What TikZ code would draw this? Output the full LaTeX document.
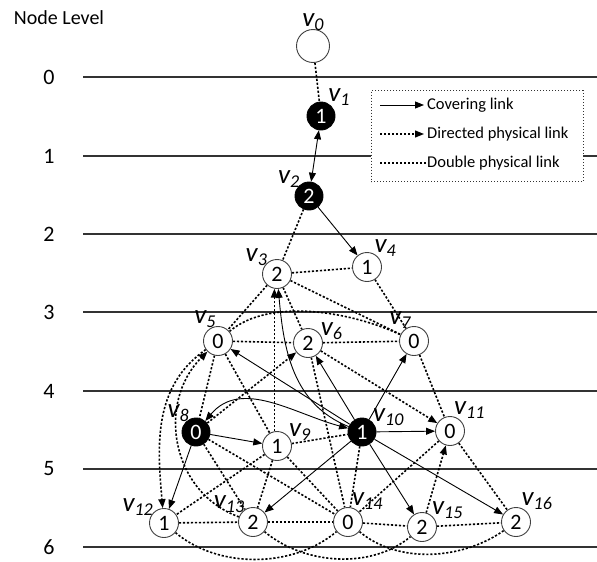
\documentclass[tikz,border=0pt]{standalone}
\usepackage{fontspec}
\setmainfont{Carlito}
\usetikzlibrary{arrows.meta, backgrounds}

% italic node name with subscript
\newcommand{\vlab}[1]{{\fontsize{27}{27}\selectfont\itshape v}\raisebox{-4pt}{\fontsize{18}{18}\selectfont\itshape #1}}

\begin{document}
\begin{tikzpicture}[
        x=1pt, y=-1pt,
        vnode/.style={circle, draw=black!75, line width=0.9pt, fill=white, minimum size=29pt, inner sep=0pt, font=\fontsize{22}{22}\selectfont},
        bnode/.style={vnode, draw=black, fill=black, text=white, minimum size=28pt},
        lbl/.style={label distance=-2pt, inner sep=0pt},
        cover/.style={-{Triangle[length=9pt,width=7pt]}, line width=0.9pt},
        phys/.style={line width=1.6pt, dash pattern=on 2.2pt off 1.8pt},
        dphys/.style={phys, -{Triangle[length=9pt,width=7pt]}},
        level/.style={line width=1.2pt, draw=black!80},
        lvnum/.style={font=\fontsize{22}{22}\selectfont},
        legtext/.style={anchor=west, inner sep=1pt, font=\fontsize{16.5}{16.5}\selectfont}
    ]
        \useasboundingbox (0,0) rectangle (597,562);

        % Level axis
        \node (title) [font=\fontsize{20}{20}\selectfont] at (59,18) {Node Level};
        \foreach \l/\y in {0/77, 1/156, 2/234, 3/312, 4/391, 5/469, 6/547} {
            \node (lv\l) [lvnum] at (49,\y) {\l};
        }

        % Level 0-2
        \node (v0) [vnode, minimum size=33pt, label={[lbl]90:\vlab{0}}] at (313,46) {};
        \node (v1) [bnode, label={[lbl]55:\vlab{1}}] at (321,116) {1};
        \node (v2) [bnode, label={[lbl]140:\vlab{2}}] at (309,196) {2};

        % Level 2-3
        \node (v3) [vnode, label={[lbl]140:\vlab{3}}] at (277,274) {2};
        \node (v4) [vnode, label={[lbl]55:\vlab{4}}] at (367,267) {1};
        \node (v5) [vnode, label={[lbl]100:\vlab{5}}] at (218,341) {0};
        \node (v6) [vnode, label={[lbl]12:\vlab{6}}] at (308,343) {2};
        \node (v7) [vnode, label={[lbl]105:\vlab{7}}] at (414,341) {0};

        % Level 4-5
        \node (v8) [bnode, label={[lbl]125:\vlab{8}}] at (196,432) {0};
        \node (v9) [vnode, label={[lbl]22:\vlab{9}}] at (277,446) {1};
        \node (v10) [bnode, label={[lbl]28:\vlab{10}}] at (362,432) {1};
        \node (v11) [vnode, label={[lbl]72:\vlab{11}}] at (450,431) {0};

        % Level 5-6
        \node (v12) [vnode, label={[lbl]148:\vlab{12}}] at (164,523) {1};
        \node (v13) [vnode, label={[lbl]132:\vlab{13}}] at (253,522) {2};
        \node (v14) [vnode, label={[lbl]72:\vlab{14}}] at (348,522) {0};
        \node (v15) [vnode, label={[lbl]40:\vlab{15}}] at (422,527) {2};
        \node (v16) [vnode, label={[lbl]65:\vlab{16}}] at (516,522) {2};

        % Legend
        \node (legend) [draw=black!80, dotted, line width=1pt, fill=white, minimum width=212pt, minimum height=91pt, inner sep=0pt] at (477,136) {};
        \node (covtxt) [legtext] at (426,105) {Covering link};
        \node (dirtxt) [legtext] at (426,134) {Directed physical link};
        \node (dbltxt) [legtext] at (426,163) {Double physical link};
        \draw [cover] ([xshift=-46pt]covtxt.west) -- ([xshift=-2pt]covtxt.west);
        \draw [dphys, line width=1.2pt] ([xshift=-46pt]dirtxt.west) -- ([xshift=-2pt]dirtxt.west);
        \draw [phys, line width=1.2pt] ([xshift=-46pt]dbltxt.west) -- (dbltxt.west);

        \begin{scope}[on background layer]
            % level lines
            \foreach \y in {77, 156, 234, 312, 391, 469, 547} {
                \draw [level] (83,\y) -- (597,\y);
            }

            % Covering links
            \draw [cover, {Triangle[length=9pt,width=7pt]}-{Triangle[length=9pt,width=7pt]}] (v1) -- (v2);
            \draw [cover] (v2) -- (v4);
            \draw [cover] (v10) to[out=158, in=-85] (v3);
            \draw [cover] (v10) -- (v5);
            \draw [cover] (v10) -- (v6);
            \draw [cover] (v10) -- (v7);
            \draw [cover] (v10) -- (v11);
            \draw [cover] (v10) -- (v13);
            \draw [cover] (v10) -- (v15);
            \draw [cover] (v10) -- (v16);
            \draw [cover] (v8) -- (v9);
            \draw [cover] (v8) -- (v12);
            \draw [cover, {Triangle[length=9pt,width=7pt]}-{Triangle[length=9pt,width=7pt]}] (v8) to[out=50, in=165] (v10);

            % Directed physical links
            \draw [dphys] (v9.100) -- (v3.260);
            \draw [dphys] (v8) -- (v6);
            \draw [dphys] (v6) -- (v11);
            \draw [dphys] (v15) -- (v11);
            \draw [dphys] (v5) to[out=215, in=95] (v12);
            \draw [dphys] (v13) to[out=160, in=225, looseness=1.1] (v5);

            % Double physical links
            \draw [phys] (v0) -- (v1);
            \draw [phys] (v2) -- (v3);
            \draw [phys] (v3) -- (v4);
            \draw [phys] (v4) -- (v7);
            \draw [phys] (v3) -- (v7);
            \draw [phys] (v3) -- (v5);
            \draw [phys] (v3) -- (v6);
            \draw [phys] (v5) -- (v6);
            \draw [phys] (v6) -- (v7);
            \draw [phys] (v5) to[out=40, in=155, looseness=0.8] (v7);
            \draw [phys] (v5) -- (v8);
            \draw [phys] (v5) -- (v9);
            \draw [phys] (v9) -- (v10);
            \draw [phys] (v6) -- (v14);
            \draw [phys] (v7) -- (v11);
            \draw [phys] (v10) -- (v14);
            \draw [phys] (v11) -- (v14);
            \draw [phys] (v11) -- (v16);
            \draw [phys] (v8) -- (v13);
            \draw [phys] (v8) -- (v14);
            \draw [phys] (v9) -- (v12);
            \draw [phys] (v9) -- (v13);
            \draw [phys] (v9) -- (v14);
            \draw [phys] (v12) -- (v13);
            \draw [phys] (v13) -- (v14);
            \draw [phys] (v14) -- (v15);
            \draw [phys] (v15) -- (v16);
            \draw [phys] (v12) to[out=-40, in=-140, looseness=0.9] (v14);
            \draw [phys] (v13) to[out=-40, in=-140, looseness=0.9] (v15);
            \draw [phys] (v14) to[out=-40, in=-145, looseness=0.9] (v16);
        \end{scope}
    \end{tikzpicture}
\end{document}
